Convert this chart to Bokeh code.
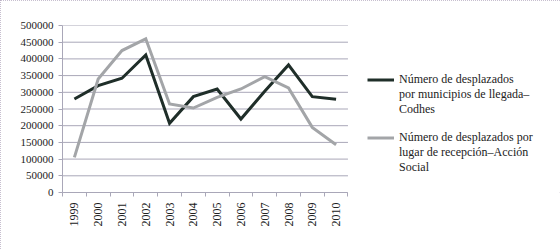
from bokeh.plotting import figure
from bokeh.models import (Range1d, FixedTicker, Legend, LegendItem, ColumnDataSource)
from bokeh.embed import file_html
from bokeh.resources import INLINE
import math

years = ["1999", "2000", "2001", "2002", "2003", "2004", "2005",
         "2006", "2007", "2008", "2009", "2010"]
codhes = [280000, 320000, 342000, 412000, 207000, 287000, 310000,
          220000, 303000, 382000, 287000, 279000]
accion_social = [105000, 340000, 425000, 460000, 265000, 253000, 285000,
                 310000, 347000, 313000, 195000, 143000]
y_ticks = [0, 50000, 100000, 150000, 200000, 250000, 300000, 350000,
           400000, 450000, 500000]
label_codhes = ["Número de desplazados", "por municipios de llegada–\nCodhes"]
label_accion = ["Número de desplazados por", "lugar de recepción–Acción\nSocial"]

n = len(years)
xpos = [i + 0.5 for i in range(n)]
src = ColumnDataSource(dict(x=xpos, codhes=codhes, accion=accion_social))

SERIF = "'Liberation Serif'"
AXIS_COLOR = "#a9a7b8"
TEXT_COLOR = "#222222"

W, H = 560, 249
LEFT, TOP, BOTTOM = 62, 25, 57
CAT_PX = 23.79                      # pixel width of one category
x_end = (W - LEFT) / CAT_PX         # frame spans the whole right side (legend area)

p = figure(width=W, height=H, output_backend="svg", toolbar_location=None,
           x_range=Range1d(0, x_end), y_range=Range1d(0, 500000),
           min_border_left=LEFT, min_border_right=0, min_border_top=TOP,
           min_border_bottom=BOTTOM,
           styles={"outline": "1px dotted #b4aabf", "outline-offset": "-1px"})
p.outline_line_color = None
p.background_fill_color = "white"
p.border_fill_color = "white"

# grid lines limited to the chart area
p.xgrid.grid_line_color = None
p.ygrid.grid_line_color = None
p.segment(x0=0, x1=n, y0=y_ticks, y1=y_ticks, line_color=AXIS_COLOR, line_width=1)

# y axis
p.yaxis.ticker = FixedTicker(ticks=y_ticks)
p.yaxis.formatter.use_scientific = False
p.yaxis.axis_line_color = AXIS_COLOR
p.yaxis.major_tick_line_color = AXIS_COLOR
p.yaxis.major_tick_out = 4
p.yaxis.major_tick_in = 0
p.yaxis.minor_tick_line_color = None
p.yaxis.major_label_standoff = 5
p.yaxis.major_label_text_font = SERIF
p.yaxis.major_label_text_font_size = "11px"
p.yaxis.major_label_text_color = TEXT_COLOR

# x axis
p.xaxis.bounds = (0, n)
p.xaxis.ticker = FixedTicker(ticks=xpos, minor_ticks=list(range(n + 1)))
p.xaxis.major_label_overrides = {x: y for x, y in zip(xpos, years)}
p.xaxis.major_label_orientation = math.pi / 2
p.xaxis.axis_line_color = AXIS_COLOR
p.xaxis.major_tick_line_color = None
p.xaxis.minor_tick_line_color = AXIS_COLOR
p.xaxis.minor_tick_out = 4
p.xaxis.minor_tick_in = 0
p.xaxis.major_tick_out = 0
p.xaxis.major_tick_in = 0
p.xaxis.major_label_standoff = 6
p.xaxis.major_label_text_font = SERIF
p.xaxis.major_label_text_font_size = "12px"
p.xaxis.major_label_text_color = TEXT_COLOR

r1 = p.line("x", "codhes", source=src, line_color="#1f2e29", line_width=3,
            line_join="miter")
r2 = p.line("x", "accion", source=src, line_color="#a3a5a8", line_width=3,
            line_join="miter")
# invisible renderer used only for the continuation lines of legend labels
r_blank = p.line("x", "codhes", source=src, line_alpha=0)

items = [LegendItem(label=label_codhes[0], renderers=[r1]),
         LegendItem(label=label_codhes[1], renderers=[r_blank]),
         LegendItem(label=" ", renderers=[r_blank]),
         LegendItem(label=label_accion[0], renderers=[r2]),
         LegendItem(label=label_accion[1], renderers=[r_blank])]

legend = Legend(items=items, location=(305, 17), orientation="vertical")
legend.border_line_color = None
legend.background_fill_alpha = 0
legend.padding = 0
legend.margin = 0
legend.spacing = 0
legend.glyph_width = 27
legend.glyph_height = 13
legend.label_standoff = 5
legend.label_text_font = SERIF
legend.label_text_font_size = "12px"
legend.label_text_line_height = 0.92
legend.label_text_color = TEXT_COLOR
legend.label_height = 13
legend.click_policy = "none"
p.add_layout(legend, "center")

open("out.html", "w").write(file_html(p, INLINE))
